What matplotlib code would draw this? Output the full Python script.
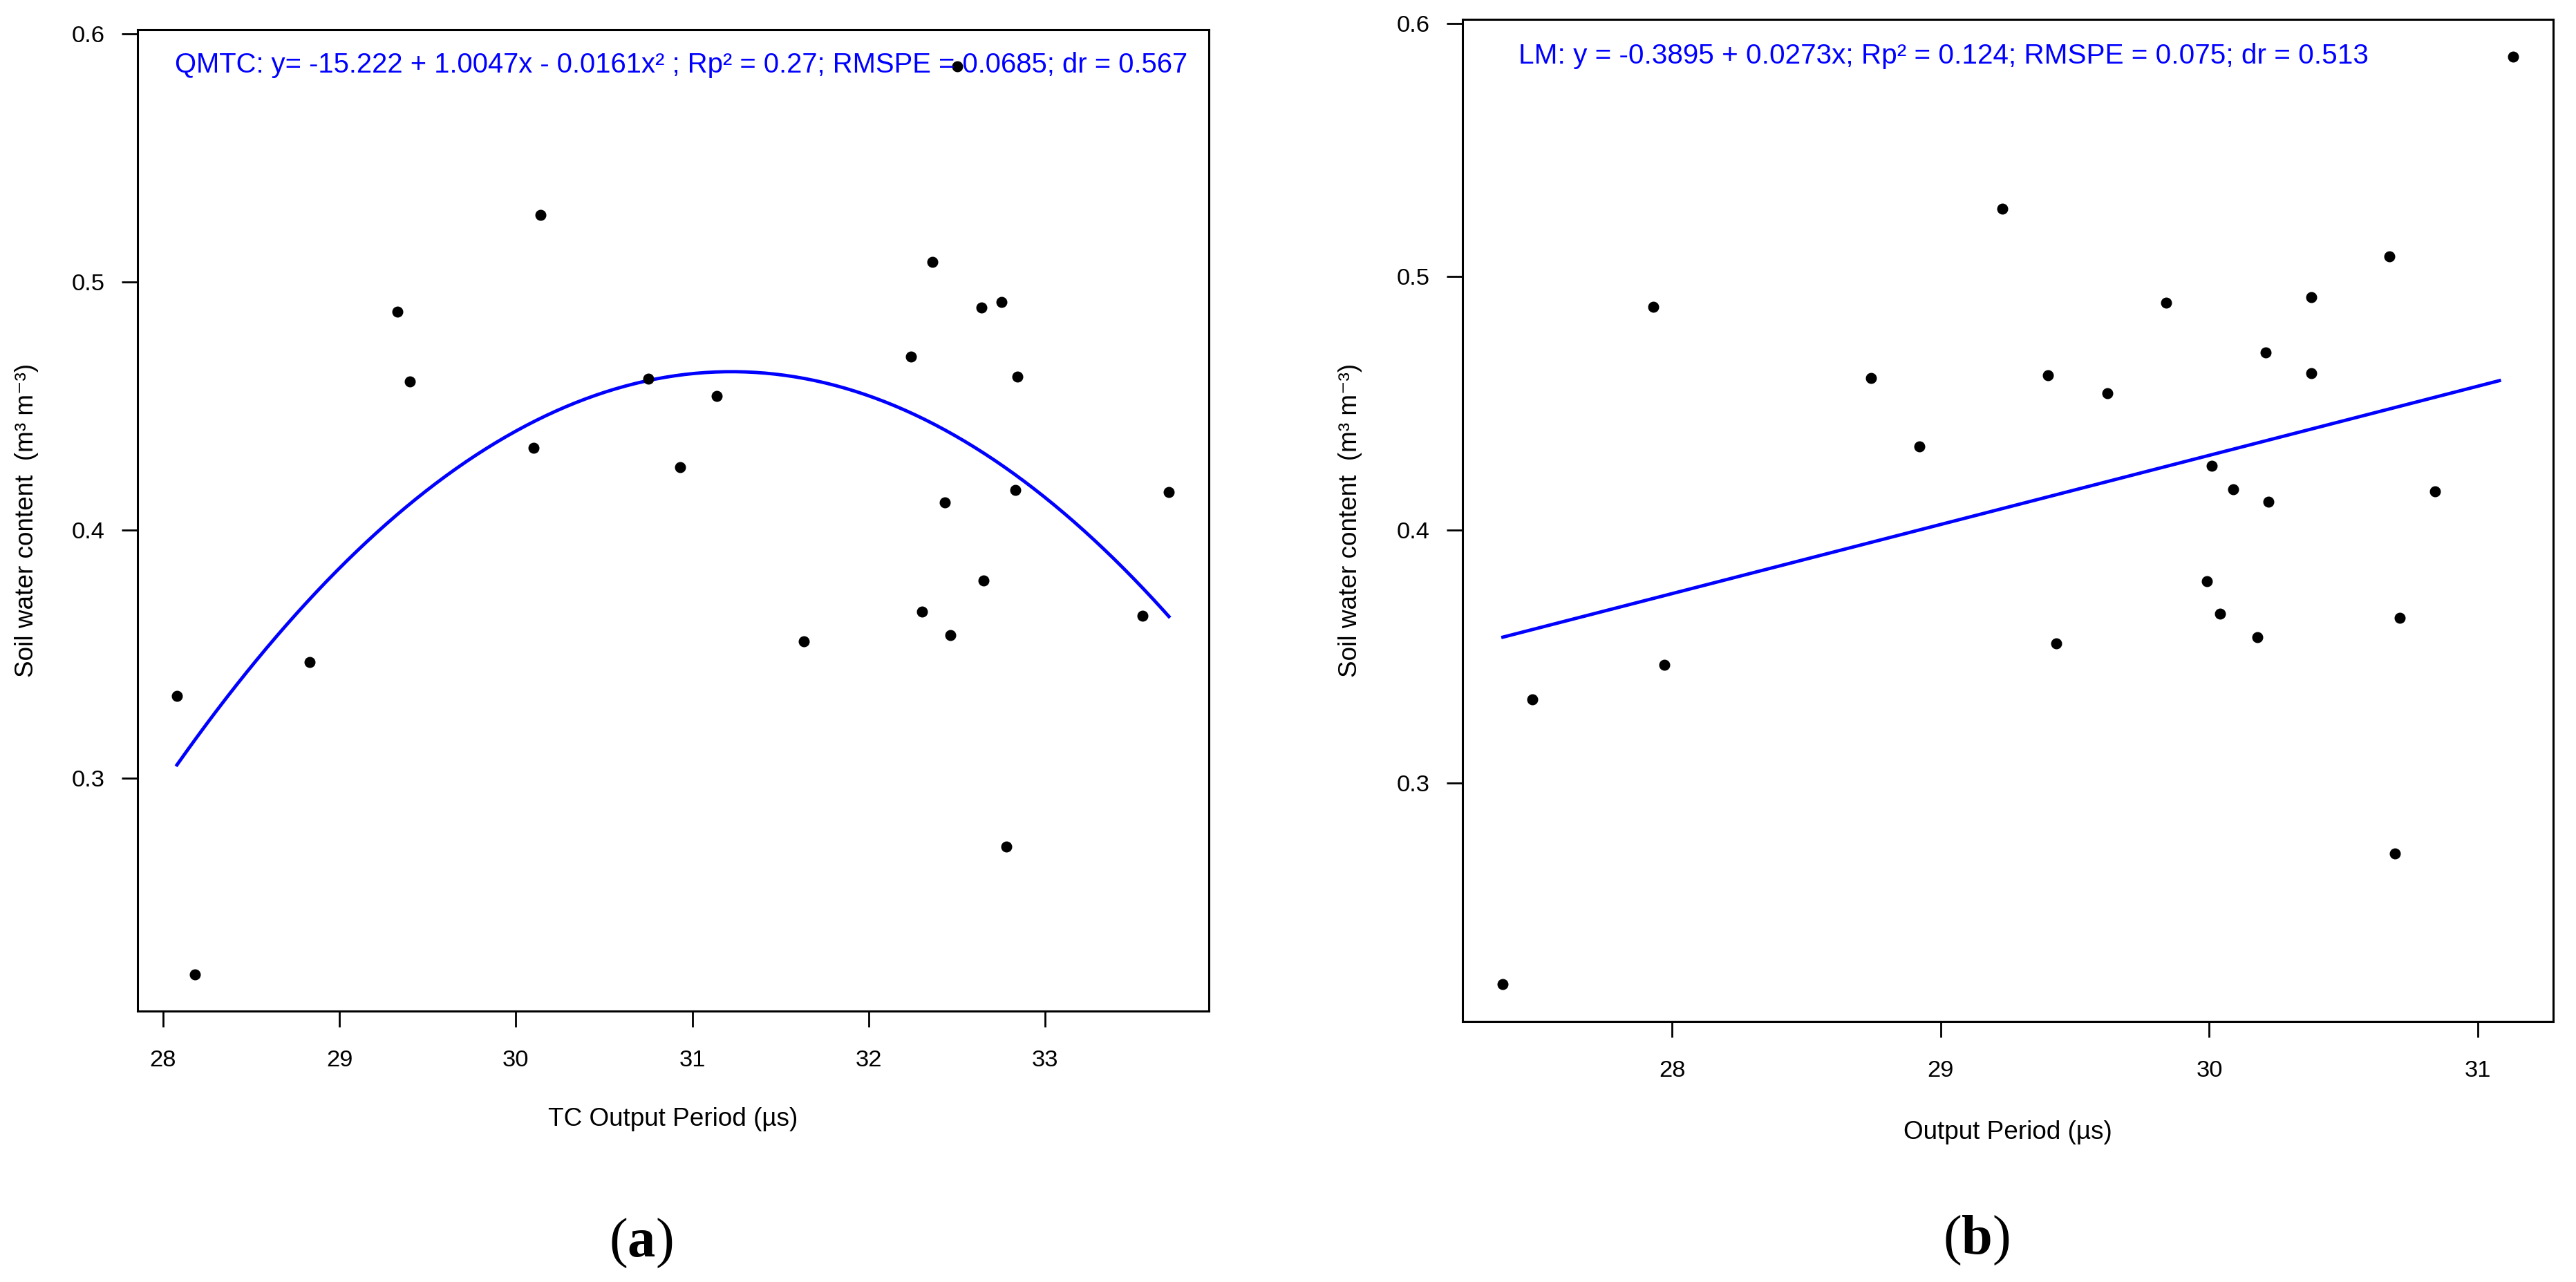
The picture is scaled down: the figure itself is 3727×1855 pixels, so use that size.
import numpy as np
import matplotlib
matplotlib.use("Agg")
import matplotlib.pyplot as plt

# soil water content (shared by both panels)
swc = [0.587, 0.527, 0.508, 0.488, 0.4897, 0.492, 0.460, 0.461, 0.4618, 0.470,
       0.454, 0.433, 0.4254, 0.4111, 0.4161, 0.4153, 0.3797, 0.367, 0.3654, 0.3577,
       0.3551, 0.3467, 0.3331, 0.2722, 0.2206]

# (a) TC output period
tc_period = [32.50, 30.14, 32.36, 29.33, 32.64, 32.75, 29.40, 30.75, 32.84, 32.24,
             31.14, 30.10, 30.93, 32.43, 32.83, 33.70, 32.65, 32.30, 33.55, 32.46,
             31.63, 28.83, 28.08, 32.78, 28.18]

# (b) output period
out_period = [31.13, 29.23, 30.67, 27.93, 29.84, 30.38, 28.74, 29.40, 30.38, 30.21,
              29.62, 28.92, 30.01, 30.22, 30.09, 30.84, 29.99, 30.04, 30.71, 30.18,
              29.43, 27.97, 27.48, 30.69, 27.37]

lm_coef = [-0.3895, 0.0273]
lm_xrange = [27.37, 31.08]

eq_a = "QMTC: y= -15.222 + 1.0047x - 0.0161x² ; Rp² = 0.27; RMSPE = 0.0685; dr = 0.567"
eq_b = "LM: y = -0.3895 + 0.0273x; Rp² = 0.124; RMSPE = 0.075; dr = 0.513"
ylab = "Soil water content  (m³ m⁻³)"

plt.rcParams['font.family'] = ['Liberation Sans', 'DejaVu Sans']
plt.rcParams['mathtext.fontset'] = 'custom'
plt.rcParams['mathtext.rm'] = 'Liberation Serif'
plt.rcParams['mathtext.bf'] = 'Liberation Serif:bold'

W, H = 3727, 1855
fig = plt.figure(figsize=(W / 100, H / 100), dpi=100)


def r_lim(v):
    # R default axis range: data range extended by 4 %
    lo, hi = min(v), max(v)
    d = (hi - lo) * 0.04
    return lo - d, hi + d


def style(ax, x, xticks, xlab):
    ax.set_xlim(*r_lim(x))
    ax.set_ylim(*r_lim(swc))
    ax.set_xticks(xticks)
    ax.set_xticklabels([str(t) for t in xticks])
    ax.set_yticks([0.3, 0.4, 0.5, 0.6])
    ax.set_yticklabels(["0.3", "0.4", "0.5", "0.6"])
    ax.tick_params(axis='both', length=16.5, width=2, labelsize=24.8)
    ax.tick_params(axis='x', pad=24)
    ax.tick_params(axis='y', pad=17.5)
    for s in ax.spines.values():
        s.set_linewidth(2.2)
    ax.set_xlabel(xlab, fontsize=26.6, va='center')
    ax.xaxis.set_label_coords(0.5, -0.1105)
    ax.set_ylabel(ylab, fontsize=26.6, va='center')
    ax.yaxis.set_label_coords(-0.103, 0.5)


# panel (a)
ax1 = fig.add_axes([198.6 / W, 1 - 1463 / H, 1550 / W, 1419.7 / H])
coef = np.polyfit(tc_period, swc, 2)
xs = np.linspace(min(tc_period), max(tc_period), 200)
ax1.plot(xs, np.polyval(coef, xs), color='#0000ff', lw=3.5, zorder=2)
ax1.plot(tc_period, swc, 'o', color='black', ms=10.5, zorder=3)
style(ax1, tc_period, [28, 29, 30, 31, 32, 33], "TC Output Period (µs)")
ax1.text(0.0348, 0.9645, eq_a, transform=ax1.transAxes, color='#0000ff',
         fontsize=28.8, ha='left', va='center')

# panel (b)
ax2 = fig.add_axes([2116 / W, 1 - 1478 / H, 1578 / W, 1450 / H])
xl = np.array(lm_xrange)
ax2.plot(xl, lm_coef[0] + lm_coef[1] * xl, color='#0000ff', lw=3.5, zorder=2)
ax2.plot(out_period, swc, 'o', color='black', ms=10.5, zorder=3)
style(ax2, out_period, [28, 29, 30, 31], "Output Period (µs)")
ax2.text(0.0513, 0.9637, eq_b, transform=ax2.transAxes, color='#0000ff',
         fontsize=29.2, ha='left', va='center')

fig.text(0.2489, 0.0304, r'($\mathbf{a}$)', fontsize=58, ha='center', va='center',
         family='Liberation Serif')
fig.text(0.7671, 0.0323, r'($\mathbf{b}$)', fontsize=58, ha='center', va='center',
         family='Liberation Serif')

fig.savefig("out.png", dpi=100, facecolor='white')
